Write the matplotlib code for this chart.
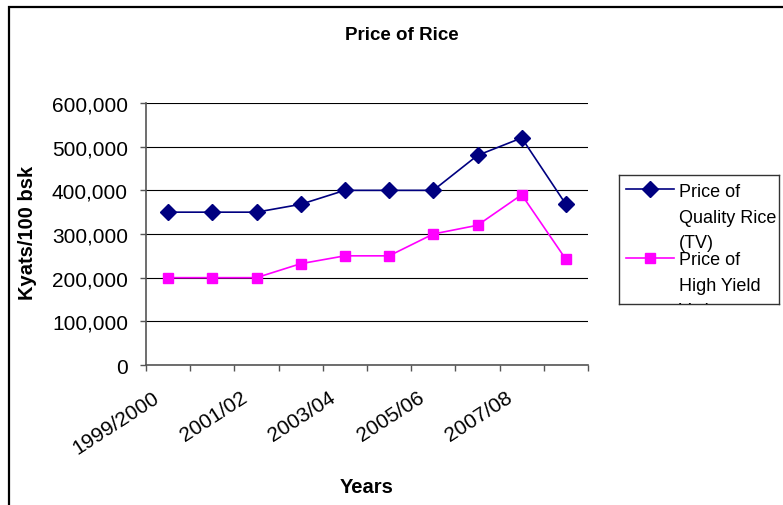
import matplotlib
matplotlib.use("Agg")
import numpy as np
import matplotlib.pyplot as plt
from matplotlib.patches import Rectangle
from matplotlib.lines import Line2D
from matplotlib.ticker import FuncFormatter, MultipleLocator, FixedLocator
from matplotlib.transforms import ScaledTranslation

plt.rcParams['font.family'] = ['Liberation Sans', 'DejaVu Sans']

# Rice prices, Kyats per 100 baskets
years = ["1999/2000", "2000/01", "2001/02", "2002/03", "2003/04",
         "2004/05", "2005/06", "2006/07", "2007/08", "2008/09"]
quality_rice = [350000, 350000, 350000, 368000, 400000,
                400000, 400000, 480000, 520000, 368000]
hyv_rice = [200000, 200000, 200000, 232000, 250000,
            250000, 300000, 320000, 390000, 242000]
legend_lines = [["Price of", "Quality Rice", "(TV)"],
                ["Price of", "High Yield", "Variety"]]

NAVY = "#000080"
MAGENTA = "#FF00FF"
AXIS_GREY = "#555555"

W, H = 783, 506
fig = plt.figure(figsize=(W / 100, H / 100), dpi=100)


def fx(px):
    return px / W


def fy(py):
    return 1 - py / H


# chart-area border (runs off the right and bottom edges)
fig.add_artist(Rectangle((fx(8.5), fy(520)), 1.2, fy(7.5) - fy(520),
                         transform=fig.transFigure, fill=False,
                         edgecolor="black", lw=1.6))

ax = fig.add_axes([fx(146), fy(366), (588 - 146) / W, (366 - 104) / H])
x = np.arange(len(years))
ax.plot(x, quality_rice, color=NAVY, marker="D", ms=8.5, lw=1.2,
        clip_on=False, zorder=3)
ax.plot(x, hyv_rice, color=MAGENTA, marker="s", ms=7.2, lw=1.2,
        clip_on=False, zorder=3)

ax.set_xlim(-0.5, len(years) - 0.5)
ax.set_ylim(0, 600000)
ax.yaxis.set_major_locator(MultipleLocator(100000))
ax.yaxis.set_major_formatter(FuncFormatter(lambda v, p: f"{int(v):,}"))
ax.grid(axis="y", color="black", lw=0.8)
ax.set_axisbelow(True)

for side in ("top", "right"):
    ax.spines[side].set_visible(False)
for side in ("left", "bottom"):
    ax.spines[side].set_color(AXIS_GREY)
    ax.spines[side].set_linewidth(1.2)

ax.tick_params(axis="y", direction="out", length=4, width=1,
               color=AXIS_GREY, labelsize=15, pad=9)

# category boundaries carry the tick marks; every other year is labelled
ax.xaxis.set_minor_locator(FixedLocator(np.arange(-0.5, len(years), 1.0)))
ax.tick_params(axis="x", which="minor", direction="out", length=4.5,
               width=1, color=AXIS_GREY)
ax.set_xticks(x[::2])
ax.set_xticklabels(years[::2], rotation=33, ha="right", va="center",
                   rotation_mode="anchor")
ax.tick_params(axis="x", which="major", length=0, labelsize=15, pad=22)
shift = ScaledTranslation(-11 / 100, 0, fig.dpi_scale_trans)
for lab in ax.get_xticklabels():
    lab.set_transform(lab.get_transform() + shift)

ax.set_ylabel("Kyats/100 bsk", fontsize=14.5, fontweight="bold", va="center")
ax.yaxis.set_label_coords(-0.267, 0.508)
ax.set_xlabel("Years", fontsize=14.5, fontweight="bold", va="center")
ax.xaxis.set_label_coords(0.5, -0.462)

fig.text(fx(402), fy(35), "Price of Rice", fontsize=13.5, fontweight="bold",
         ha="center", va="center")

# legend box, laid out in pixel units and clipped at its frame
lx0, ly0, lx1, ly1 = 619, 176, 779, 305
lax = fig.add_axes([fx(lx0), fy(ly1), (lx1 - lx0) / W, (ly1 - ly0) / H])
lax.set_xlim(0, lx1 - lx0)
lax.set_ylim(ly1 - ly0, 0)
lax.set_xticks([])
lax.set_yticks([])
for sp in lax.spines.values():
    sp.set_color("#333333")
    sp.set_linewidth(1.0)

samples = [(NAVY, "D", 8.5, 14), (MAGENTA, "s", 7.2, 83)]
baselines = [[20.7, 47, 72], [89, 114.7, 140]]
for (col, mk, ms, yk), lines, bls in zip(samples, legend_lines, baselines):
    lax.add_line(Line2D([7, 55], [yk, yk], color=col, lw=1.2))
    lax.add_line(Line2D([31], [yk], color=col, marker=mk, ms=ms, lw=0))
    for txt, yb in zip(lines, bls):
        lax.text(60, yb, txt, fontsize=13, ha="left", va="baseline",
                 clip_on=True)

fig.savefig("out.png", dpi=100)
